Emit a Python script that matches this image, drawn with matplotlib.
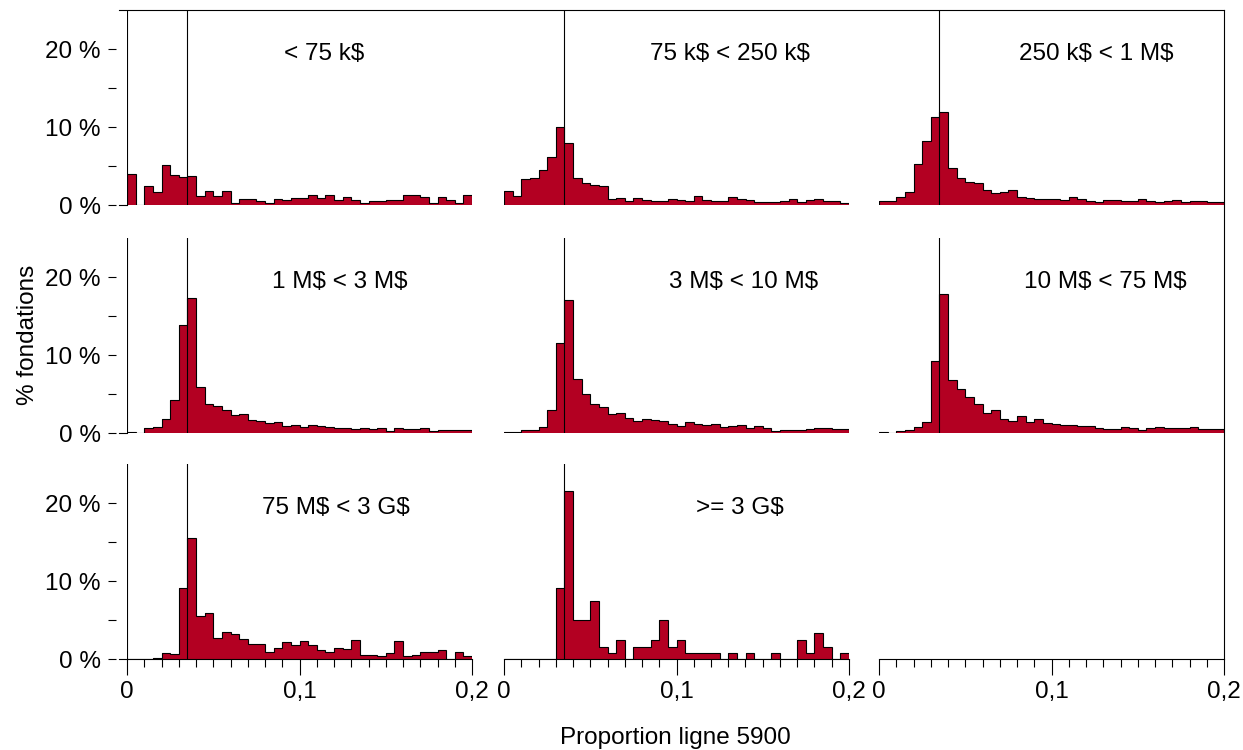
import numpy as np
import matplotlib
matplotlib.use('Agg')
import matplotlib.pyplot as plt
import matplotlib.transforms as mtransforms
from matplotlib.lines import Line2D
from matplotlib.ticker import MultipleLocator, FixedLocator, FuncFormatter

plt.rcParams['font.family'] = ['Liberation Sans', 'DejaVu Sans']
plt.rcParams['text.parse_math'] = False  # labels contain '$'

# histogram bins: 0 -> 0.2 by 0.005
edges = np.linspace(0, 0.2, 41)
ref_x = 0.035

panel_labels = ['< 75 k$', '75 k$ < 250 k$', '250 k$ < 1 M$',
                '1 M$ < 3 M$', '3 M$ < 10 M$', '10 M$ < 75 M$',
                '75 M$ < 3 G$', '>= 3 G$']

# % of foundations per bin
pct_lt75k = [4.0, 0, 2.4, 1.7, 5.1, 3.8, 3.55, 3.7, 1.2, 1.8, 1.2, 1.8, 0.26, 0.8, 0.8, 0.47,
             0.26, 0.8, 0.64, 0.94, 0.94, 1.24, 0.85, 1.24, 0.6, 1.0, 0.64, 0.26, 0.47, 0.47,
             0.6, 0.6, 1.24, 1.24, 1.0, 0.26, 1.0, 0.6, 0.26, 1.24]
pct_75k_250k = [1.84, 1.15, 3.33, 3.46, 4.5, 6.15, 10.0, 7.95, 3.46, 2.86, 2.56, 2.48, 0.81, 0.9,
                0.47, 0.9, 0.68, 0.56, 0.56, 0.81, 0.68, 0.47, 1.15, 0.64, 0.47, 0.47, 1.03, 0.81,
                0.64, 0.38, 0.38, 0.38, 0.56, 0.77, 0.38, 0.64, 0.77, 0.51, 0.51, 0.3]
pct_250k_1m = [0.47, 0.47, 0.98, 1.67, 5.2, 8.2, 11.3, 11.9, 4.7, 3.4, 3.0, 2.8, 1.9, 1.54, 1.62,
               1.92, 1.07, 0.85, 0.77, 0.77, 0.77, 0.64, 0.98, 0.77, 0.51, 0.34, 0.64, 0.68, 0.56,
               0.51, 0.77, 0.56, 0.43, 0.56, 0.6, 0.43, 0.51, 0.47, 0.38, 0.34]
pct_1m_3m = [0.13, 0.04, 0.6, 0.73, 1.8, 4.2, 13.8, 17.3, 5.9, 3.7, 3.5, 3.0, 2.35, 2.4, 1.67,
             1.58, 1.32, 1.37, 0.9, 1.07, 0.81, 0.98, 0.85, 0.77, 0.68, 0.6, 0.47, 0.6, 0.56,
             0.64, 0.3, 0.6, 0.47, 0.51, 0.6, 0.3, 0.38, 0.38, 0.38, 0.38]
pct_3m_10m = [0.13, 0.13, 0.34, 0.34, 0.77, 2.95, 11.5, 17.05, 6.9, 5.0, 3.7, 3.3, 2.4, 2.6, 1.97,
              1.54, 1.8, 1.62, 1.54, 1.2, 0.85, 1.37, 1.15, 1.03, 1.1, 0.81, 0.9, 1.03, 0.64,
              0.85, 0.64, 0.3, 0.38, 0.38, 0.43, 0.56, 0.64, 0.6, 0.51, 0.56]
pct_10m_75m = [0.09, 0.04, 0.26, 0.34, 0.81, 1.37, 9.2, 17.8, 6.8, 5.6, 4.6, 3.7, 2.6, 2.95, 1.84,
               1.5, 2.14, 1.37, 1.8, 1.32, 1.15, 1.07, 1.07, 0.85, 0.85, 0.64, 0.56, 0.56, 0.73,
               0.68, 0.34, 0.64, 0.73, 0.6, 0.6, 0.6, 0.77, 0.47, 0.51, 0.56]
pct_75m_3g = [0, 0, 0, 0.13, 0.81, 0.6, 9.1, 15.5, 5.5, 5.9, 2.7, 3.4, 3.2, 2.56, 1.97, 1.97,
              0.94, 1.45, 2.14, 1.84, 2.35, 1.84, 1.1, 0.94, 1.45, 1.32, 2.5, 0.56, 0.56, 0.38,
              0.81, 2.35, 0.38, 0.56, 0.94, 0.94, 1.1, 0.05, 0.94, 0.43]
pct_ge3g = [0, 0, 0, 0, 0, 0, 9.1, 21.6, 5.0, 5.0, 7.4, 1.58, 0.77, 2.44, 0, 1.58, 1.58, 2.44,
            5.0, 1.58, 2.44, 0.77, 0.77, 0.77, 0.77, 0, 0.77, 0, 0.77, 0, 0, 0.77, 0, 0,
            2.44, 0.77, 3.3, 1.58, 0, 0.77]

series = [pct_lt75k, pct_75k_250k, pct_250k_1m, pct_1m_3m, pct_3m_10m,
          pct_10m_75m, pct_75m_3g, pct_ge3g]

# layout (pixels on a 1243x750 canvas)
W, H = 1243, 750
col_left = [127, 504, 879]
row_base = [205, 433, 659]
pw, ph = 345, 195
label_x = [0.57, 0.655, 0.63, 0.617, 0.693, 0.655, 0.606, 0.684]
tick_px = 8
red = '#B30022'
fs = 17.5

fig = plt.figure(figsize=(W / 100, H / 100), dpi=100)

def pct_fmt(v, _):
    return f'{int(round(v))} %'

def x_fmt(v, _):
    if abs(v) < 1e-9:
        return '0'
    return f'{v:.1f}'.replace('.', ',')

axes = []
for k in range(9):
    r, c = divmod(k, 3)
    ax = fig.add_axes([col_left[c] / W, 1 - row_base[r] / H, pw / W, ph / H])
    axes.append(ax)
    ax.set_xlim(0, 0.2)
    ax.set_ylim(0, 25)
    ax.patch.set_visible(False)
    for s in ax.spines.values():
        s.set_visible(False)

    if k < 8:
        vals = series[k]
        ax.stairs(vals, edges, fill=True, color=red, linewidth=0, zorder=2)
        ax.stairs(vals, edges, color='black', linewidth=0.8, zorder=3)
        ax.axvline(ref_x, color='black', linewidth=0.8, zorder=4)
        trans = mtransforms.blended_transform_factory(ax.transAxes, ax.transData)
        ax.text(label_x[k], 19.4, panel_labels[k], transform=trans,
                ha='center', va='center', fontsize=fs)

    # left axis only on the first column
    if c == 0:
        ax.spines['left'].set_visible(True)
        ax.spines['left'].set_position(('outward', tick_px))
        ax.spines['left'].set_color('none')
        ax.yaxis.set_major_locator(FixedLocator([0, 10, 20]))
        ax.yaxis.set_minor_locator(FixedLocator([5, 15]))
        ax.yaxis.set_major_formatter(FuncFormatter(pct_fmt))
        ax.tick_params(axis='y', which='both', direction='out', length=tick_px * 0.72,
                       width=0.8, color='black', labelsize=fs, pad=5)
        ax.axvline(0, color='black', linewidth=0.8, zorder=5)
        ax.axhline(0, xmin=-tick_px / pw, xmax=0, color='black', linewidth=0.8, clip_on=False)
    else:
        ax.tick_params(axis='y', which='both', left=False, labelleft=False)

    # bottom axis only on the last row
    if r == 2:
        ax.spines['bottom'].set_visible(True)
        ax.spines['bottom'].set_linewidth(0.8)
        ax.xaxis.set_major_locator(MultipleLocator(0.1))
        ax.xaxis.set_minor_locator(MultipleLocator(0.01))
        ax.xaxis.set_major_formatter(FuncFormatter(x_fmt))
        ax.tick_params(axis='x', which='major', direction='out', length=2 * tick_px * 0.72,
                       width=0.8, labelsize=fs, pad=4)
        ax.tick_params(axis='x', which='minor', direction='out', length=tick_px * 0.72,
                       width=0.8)
    else:
        ax.tick_params(axis='x', which='both', bottom=False, labelbottom=False)

# outer frame: top and right edges run across all panels
p_tl = axes[0].get_position()
p_tr = axes[2].get_position()
p_br = axes[8].get_position()
fig.add_artist(Line2D([p_tl.x0 - tick_px / W, p_tr.x1], [p_tl.y1, p_tl.y1],
                      transform=fig.transFigure, color='black', linewidth=0.8))
fig.add_artist(Line2D([p_tr.x1, p_tr.x1], [p_tr.y1, p_br.y0],
                      transform=fig.transFigure, color='black', linewidth=0.8))

fig.text(28 / W, 1 - 335 / H, '% fondations', rotation=90, ha='center', va='center', fontsize=fs)
fig.text(675 / W, 1 - 738 / H, 'Proportion ligne 5900', ha='center', va='center', fontsize=fs)

fig.savefig('out.png', dpi=100)
